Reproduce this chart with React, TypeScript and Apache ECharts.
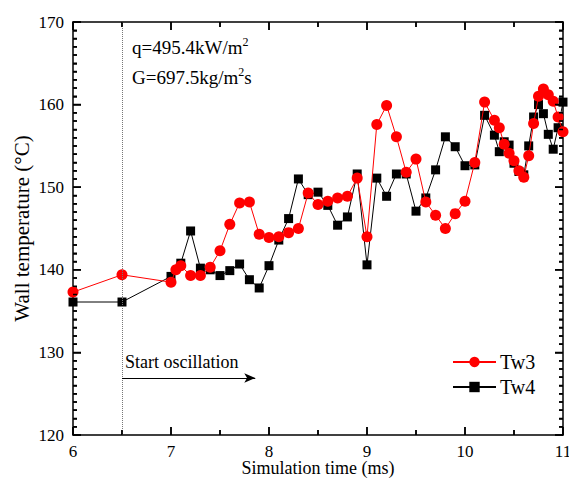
import React, { useEffect, useRef } from "react";
import * as echarts from "echarts";

const tw3Times = [6, 6.5, 7.0, 7.05, 7.1, 7.2, 7.3, 7.4, 7.5, 7.6, 7.7, 7.8, 7.9, 8.0, 8.1, 8.2, 8.3, 8.4, 8.5, 8.6, 8.7, 8.8, 8.9, 9.0, 9.1, 9.2, 9.3, 9.4, 9.5, 9.6, 9.7, 9.8, 9.9, 10.0, 10.1, 10.2, 10.3, 10.35, 10.4, 10.45, 10.5, 10.55, 10.6, 10.65, 10.7, 10.75, 10.8, 10.85, 10.9, 10.95, 11.0];
const tw3Values = [137.3, 139.4, 138.5, 140.0, 140.5, 139.3, 139.3, 140.3, 142.3, 145.5, 148.1, 148.2, 144.3, 143.9, 144.0, 144.5, 145.0, 149.3, 147.9, 148.3, 148.7, 148.9, 151.1, 144.0, 157.6, 159.9, 156.1, 151.8, 153.4, 148.2, 146.6, 145.0, 146.8, 148.3, 153.0, 160.3, 158.1, 157.2, 155.2, 154.1, 153.2, 152.0, 151.2, 153.8, 157.7, 161.0, 161.9, 161.2, 160.4, 158.5, 156.7];

const tw4Times = [6, 6.5, 7.0, 7.1, 7.2, 7.3, 7.4, 7.5, 7.6, 7.7, 7.8, 7.9, 8.0, 8.1, 8.2, 8.3, 8.4, 8.5, 8.6, 8.7, 8.8, 8.9, 9.0, 9.1, 9.2, 9.3, 9.4, 9.5, 9.6, 9.7, 9.8, 9.9, 10.0, 10.1, 10.2, 10.3, 10.35, 10.4, 10.45, 10.5, 10.55, 10.6, 10.65, 10.7, 10.75, 10.8, 10.85, 10.9, 10.95, 11.0];
const tw4Values = [136.1, 136.1, 139.2, 140.8, 144.7, 140.2, 140.0, 139.3, 139.9, 140.7, 138.8, 137.8, 140.5, 143.6, 146.2, 151.0, 149.1, 149.4, 147.8, 145.4, 146.4, 151.6, 140.6, 151.1, 148.9, 151.6, 151.6, 147.1, 148.7, 152.1, 156.1, 154.9, 152.6, 152.7, 158.7, 156.3, 154.3, 155.5, 155.1, 152.9, 151.9, 151.5, 155.0, 158.5, 160.0, 158.9, 156.4, 154.6, 157.2, 160.3];

const seriesNames = ["Tw3", "Tw4"];
const xTitle = "Simulation time (ms)";
const yTitle = "Wall temperature (°C)";
const xMin = 6, xMax = 11, xStep = 1, xMinorDiv = 2;
const yMin = 120, yMax = 170, yStep = 10, yMinorDiv = 10;
const oscStart = 6.5;
const arrowEnd = 7.86;
const arrowLevel = 126.9;

const FONT = "'Liberation Serif', 'Times New Roman', serif";

// plot-area size in px, only used to express tick lengths (px) in axis units
const PLOT_W = 569 - 73 - 6;
const PLOT_H = 479 - 22 - 44;

// inward tick marks as short segments of one broken line series
function buildTickSegments() {
  const pts: any[] = [];
  const yu = (p: number) => (p * (yMax - yMin)) / PLOT_H;
  const xu = (p: number) => (p * (xMax - xMin)) / PLOT_W;
  const gap = ["-", "-"];
  const nx = Math.round((xMax - xMin) / xStep) * xMinorDiv;
  for (let i = 0; i <= nx; i++) {
    const v = xMin + (i * xStep) / xMinorDiv;
    const len = yu(i % xMinorDiv === 0 ? 8 : 5);
    pts.push([v, yMin], [v, yMin + len], gap);
    pts.push([v, yMax], [v, yMax - len], gap);
  }
  const ny = Math.round((yMax - yMin) / yStep) * yMinorDiv;
  for (let i = 0; i <= ny; i++) {
    const v = yMin + (i * yStep) / yMinorDiv;
    const len = xu(i % yMinorDiv === 0 ? 8 : 4);
    pts.push([xMin, v], [xMin + len, v], gap);
    pts.push([xMax, v], [xMax - len, v], gap);
  }
  return pts;
}

function axisCommonX(pos: string) {
  return {
    type: "value",
    min: xMin,
    max: xMax,
    interval: xStep,
    position: pos,
    axisLine: { show: true, onZero: false, lineStyle: { color: "#000", width: 1.5 } },
    axisTick: { show: true, inside: true, length: 8, lineStyle: { color: "#000", width: 1.5 } },
    minorTick: { show: true, splitNumber: xMinorDiv, length: 5, lineStyle: { color: "#000", width: 1.5 } },
    splitLine: { show: false },
  };
}
function axisCommonY(pos: string) {
  return {
    type: "value",
    min: yMin,
    max: yMax,
    interval: yStep,
    position: pos,
    axisLine: { show: true, onZero: false, lineStyle: { color: "#000", width: 1.5 } },
    axisTick: { show: true, inside: true, length: 8, lineStyle: { color: "#000", width: 1.5 } },
    minorTick: { show: true, splitNumber: yMinorDiv, length: 4, lineStyle: { color: "#000", width: 1.5 } },
    splitLine: { show: false },
  };
}

export default function App() {
  const ref = useRef<HTMLDivElement>(null);
  useEffect(() => {
    if (!ref.current) return;
    const chart = echarts.init(ref.current, null, { renderer: "svg" });
    const supStyle = { fontSize: 12, lineHeight: 12, verticalAlign: "top", fontFamily: FONT, fill: "#000" };
    const rich = { sup: supStyle };
    const option = {
      animation: false,
      backgroundColor: "#fff",
      textStyle: { fontFamily: FONT },
      grid: { left: 73, right: 6, top: 22, bottom: 44, containLabel: false, outerBoundsMode: "none" },
      legend: {
        data: seriesNames,
        orient: "vertical",
        left: 452,
        top: 352,
        padding: 0,
        itemWidth: 43,
        itemHeight: 13,
        itemGap: 5,
        textStyle: { fontFamily: FONT, fontSize: 20, color: "#000", padding: [0, 0, 0, -1] },
      },
      xAxis: [
        {
          ...axisCommonX("bottom"),
          axisLabel: { color: "#000", fontSize: 17, fontFamily: FONT, margin: 8 },
          name: xTitle,
          nameLocation: "middle",
          nameGap: 24,
          nameMoveOverlap: false,
          nameTextStyle: { color: "#000", fontSize: 18, fontFamily: FONT },
        },
        { ...axisCommonX("top"), axisLabel: { show: false } },
      ],
      yAxis: [
        {
          ...axisCommonY("left"),
          axisLabel: { color: "#000", fontSize: 17, fontFamily: FONT, margin: 9 },
          name: yTitle,
          nameLocation: "middle",
          nameGap: 41,
          nameRotate: 90,
          nameMoveOverlap: false,
          nameTextStyle: { color: "#000", fontSize: 21, fontFamily: FONT },
        },
        { ...axisCommonY("right"), axisLabel: { show: false } },
      ],
      series: [
        {
          name: "ticks",
          type: "line",
          silent: true,
          clip: false,
          connectNulls: false,
          showSymbol: false,
          symbol: "none",
          lineStyle: { color: "#000", width: 1.5 },
          z: 10,
          data: buildTickSegments(),
        },
        {
          name: "Tw4",
          type: "line",
          data: tw4Times.map((t, i) => [t, tw4Values[i]]),
          symbol: "rect",
          symbolSize: 9,
          color: "#000",
          lineStyle: { color: "#000", width: 1 },
          itemStyle: { color: "#000" },
          z: 2,
          markLine: {
            silent: true,
            symbol: "none",
            label: { show: false },
            lineStyle: { color: "#777", type: "dotted", width: 1 },
            data: [{ xAxis: oscStart }],
          },
        },
        {
          name: "Tw3",
          type: "line",
          data: tw3Times.map((t, i) => [t, tw3Values[i]]),
          symbol: "circle",
          symbolSize: 11,
          color: "#ff0000",
          lineStyle: { color: "#ff0000", width: 1 },
          itemStyle: { color: "#ff0000" },
          z: 3,
          markLine: {
            silent: true,
            symbolSize: 10,
            label: { show: false },
            lineStyle: { color: "#000", type: "solid", width: 1 },
            data: [
              [
                { coord: [oscStart, arrowLevel], symbol: "none", symbolSize: 0 },
                { coord: [arrowEnd, arrowLevel], symbol: "arrow", symbolSize: [7, 11], itemStyle: { color: "#000" } },
              ],
            ],
          },
        },
      ],
      graphic: [
        {
          type: "text",
          left: 132,
          top: 36,
          style: { text: "q=495.4kW/m{sup|2}", fontFamily: FONT, fontSize: 19, lineHeight: 22, fill: "#000", rich },
        },
        {
          type: "text",
          left: 132,
          top: 66,
          style: { text: "G=697.5kg/m{sup|2}s", fontFamily: FONT, fontSize: 19, lineHeight: 22, fill: "#000", rich },
        },
        {
          type: "text",
          left: 125,
          top: 353,
          style: { text: "Start oscillation", fontFamily: FONT, fontSize: 18, fill: "#000" },
        },
      ],
    };
    chart.setOption(option as any);
    return () => chart.dispose();
  }, []);
  return (
    <div
      ref={ref}
      style={{ position: "absolute", left: 0, top: 0, width: 569, height: 479 }}
    />
  );
}
